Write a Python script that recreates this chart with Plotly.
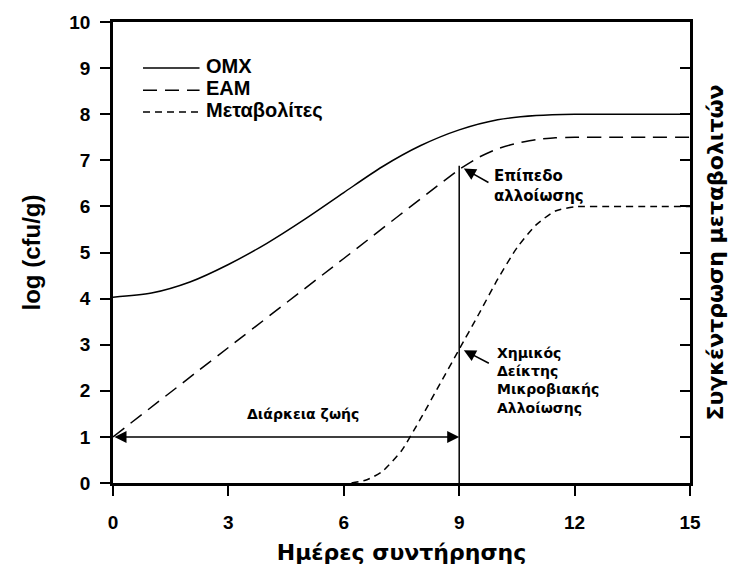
import plotly.graph_objects as go

# ---- data ----
days_omx = [0, 1, 2, 3, 4, 5, 6, 7, 8, 9, 10, 11, 12, 13, 14, 15]
omx = [4.03, 4.12, 4.36, 4.74, 5.20, 5.73, 6.30, 6.86, 7.32, 7.66, 7.88, 7.97, 8.0, 8.0, 8.0, 8.0]

days_eam = [0, 3, 6, 9, 9.5, 10, 10.5, 11, 11.5, 12, 13, 14, 15]
eam = [1.0, 2.94, 4.87, 6.8, 7.06, 7.25, 7.37, 7.45, 7.49, 7.5, 7.5, 7.5, 7.5]

days_met = [6.2, 6.6, 7.0, 7.5, 8.0, 8.5, 9.0, 9.5, 10.0, 10.5, 11.0, 11.5, 12.0, 13, 14, 15]
met = [0.0, 0.07, 0.25, 0.7, 1.4, 2.15, 2.9, 3.65, 4.42, 5.1, 5.6, 5.9, 5.99, 6.0, 6.0, 6.0]

x_ticks = [0, 3, 6, 9, 12, 15]
y_ticks = list(range(0, 11))

shelf_life_day = 9
spoilage_level = 6.88
indicator_level = 2.9
shelf_arrow_level = 1

series_names = ["ΟΜΧ", "ΕΑΜ", "Μεταβολίτες"]

BOLD = "Arial, Liberation Sans, sans-serif"
TITLEF = "DejaVu Sans"
EAM_DASH = "14px,8px"
MET_DASH = "7px,5px"


def b(s):
    return "<b>%s</b>" % s


fig = go.Figure()
fig.add_trace(go.Scatter(x=days_omx, y=omx, mode="lines", name=series_names[0],
                         line=dict(color="black", width=1.5, shape="spline", smoothing=0.8),
                         showlegend=False))
fig.add_trace(go.Scatter(x=days_eam, y=eam, mode="lines", name=series_names[1],
                         line=dict(color="black", width=1.5, dash=EAM_DASH, shape="spline", smoothing=0.6),
                         showlegend=False))
fig.add_trace(go.Scatter(x=days_met, y=met, mode="lines", name=series_names[2],
                         line=dict(color="black", width=1.5, dash=MET_DASH, shape="spline", smoothing=0.6),
                         showlegend=False))
# vertical shelf-life line
fig.add_trace(go.Scatter(x=[shelf_life_day, shelf_life_day], y=[0, spoilage_level], mode="lines",
                         line=dict(color="black", width=1.5), showlegend=False, hoverinfo="skip"))
# dummy trace for the right axis
fig.add_trace(go.Scatter(x=[None], y=[None], yaxis="y2", showlegend=False))

annotations = []
# double arrow for shelf life
annotations.append(dict(x=shelf_life_day, y=shelf_arrow_level, ax=0, ay=shelf_arrow_level,
                        xref="x", yref="y", axref="x", ayref="y", text="", showarrow=True,
                        arrowhead=2, startarrowhead=2, arrowside="end+start", arrowsize=1.6,
                        startarrowsize=1.6, arrowwidth=1.5, arrowcolor="black", standoff=0, startstandoff=0))
annotations.append(dict(x=4.95, y=1.5, xref="x", yref="y", text="Διάρκεια ζωής", showarrow=False,
                        font=dict(family=TITLEF, size=14, color="black", weight=700)))
# spoilage level arrow
annotations.append(dict(x=shelf_life_day + 0.12, y=spoilage_level - 0.06, ax=shelf_life_day + 0.8, ay=6.5,
                        xref="x", yref="y", axref="x", ayref="y", text="", showarrow=True,
                        arrowhead=2, arrowsize=1.6, arrowwidth=1.5, arrowcolor="black", standoff=0))
annotations.append(dict(x=9.85, y=6.45, xref="x", yref="y", text="Επίπεδο<br>αλλοίωσης",
                        showarrow=False, xanchor="left", yanchor="middle", align="left",
                        font=dict(family=TITLEF, size=15, color="black", weight=700)))
# chemical indicator arrow
annotations.append(dict(x=shelf_life_day + 0.12, y=indicator_level - 0.02, ax=shelf_life_day + 0.81, ay=2.58,
                        xref="x", yref="y", axref="x", ayref="y", text="", showarrow=True,
                        arrowhead=2, arrowsize=1.6, arrowwidth=1.5, arrowcolor="black", standoff=0))
annotations.append(dict(x=9.94, y=2.22, xref="x", yref="y",
                        text="Χημικός<br>Δείκτης<br>Μικροβιακής<br>Αλλοίωσης",
                        showarrow=False, xanchor="left", yanchor="middle", align="left",
                        font=dict(family=TITLEF, size=14, color="black", weight=700)))

# manual legend
legend_y = [0.900, 0.852, 0.805]
legend_dash = ["solid", EAM_DASH, MET_DASH]
shapes = []
for name, yy, dsh in zip(series_names, legend_y, legend_dash):
    shapes.append(dict(type="line", xref="paper", yref="paper", x0=0.052, x1=0.150, y0=yy, y1=yy,
                       line=dict(color="black", width=1.5, dash=dsh)))
    annotations.append(dict(x=0.157, y=yy + 0.004, xref="paper", yref="paper", text=b(name), showarrow=False,
                            xanchor="left", yanchor="middle",
                            font=dict(family=BOLD, size=20, color="black", weight=700)))

axis_common = dict(showgrid=False, zeroline=False, showline=True, linecolor="black", linewidth=2.5,
                   tickcolor="black", tickwidth=2, ticklen=10,
                   tickfont=dict(family=BOLD, size=19, color="black", weight=700))

fig.update_layout(
    width=733, height=578,
    margin=dict(l=113, r=41, t=19, b=95),
    paper_bgcolor="white", plot_bgcolor="white",
    xaxis=dict(range=[0, 15], tickvals=x_ticks, ticktext=[b(v) for v in x_ticks],
               ticks="outside", mirror=True, ticklabelstandoff=10,
               title=dict(text=b("Ημέρες συντήρησης"), standoff=14,
                          font=dict(family=TITLEF, size=22, color="black", weight=700)),
               **axis_common),
    yaxis=dict(range=[0, 10], tickvals=y_ticks, ticktext=[b(v) for v in y_ticks],
               ticks="outside", ticklabelstandoff=6,
               title=dict(text=b("log (cfu/g)"), standoff=22,
                          font=dict(family=BOLD, size=24, color="black", weight=700)),
               **axis_common),
    yaxis2=dict(range=[0, 10], tickvals=y_ticks, ticks="inside", overlaying="y", side="right",
                showticklabels=False,
                title=dict(text=b("Συγκέντρωση μεταβολιτών"), standoff=16,
                           font=dict(family=TITLEF, size=22, color="black", weight=700)),
                **axis_common),
    annotations=annotations,
    shapes=shapes,
    showlegend=False,
)

fig.write_html("out.html")
